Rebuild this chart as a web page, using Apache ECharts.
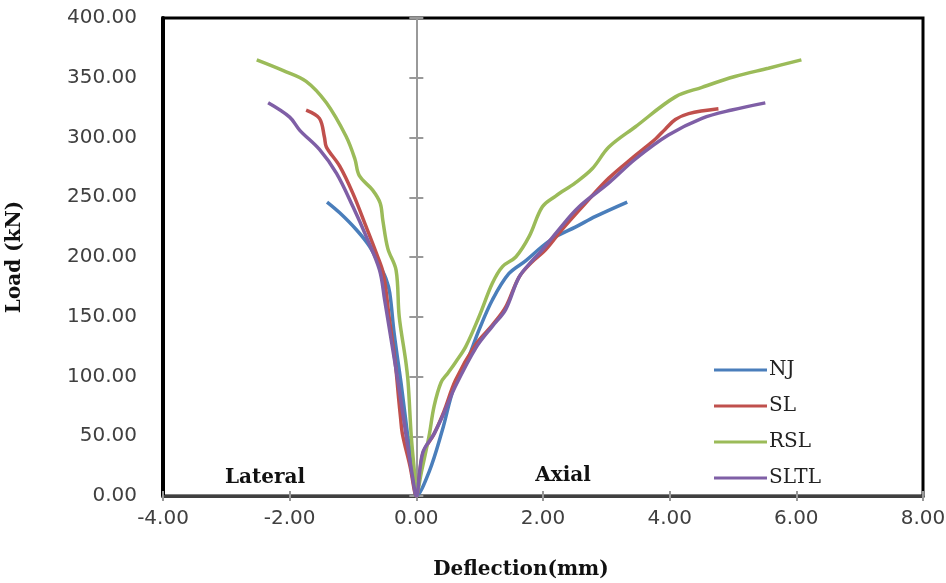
<!DOCTYPE html>
<html>
<head>
<meta charset="utf-8">
<script src="https://cdn.jsdelivr.net/npm/echarts@6/dist/echarts.min.js"></script>
<style>
  html, body { margin: 0; padding: 0; background: #fff; }
  #chart { width: 946px; height: 583px; }
</style>
</head>
<body>
<div id="chart"></div>
<script>
// 数据：每条曲线 [挠度(mm), 荷载(kN)]，从侧向端点经原点到轴向端点
var seriesNames = ['NJ', 'SL', 'RSL', 'SLTL'];
var seriesColors = ['#4a7ebb', '#c0504d', '#9bbb59', '#7f5fa6'];

var njPoints = [
	[-1.41, 246], [-1.21, 237], [-0.95, 223], [-0.74, 209], [-0.58, 193], [-0.48, 182],
	[-0.42, 170], [-0.35, 136], [-0.24, 94], [-0.14, 52], [-0.03, 11], [0, 0],
	[0.2, 20], [0.41, 55], [0.6, 92], [0.8, 113], [0.99, 139], [1.2, 164], [1.46, 186],
	[1.73, 197], [1.99, 209], [2.2, 217], [2.51, 225], [2.83, 234], [3.33, 246]
];
var slPoints = [
	[-1.74, 323], [-1.53, 316], [-1.45, 300], [-1.42, 292], [-1.21, 276], [-1.0, 253],
	[-0.79, 225], [-0.63, 203], [-0.52, 186], [-0.43, 150], [-0.33, 110], [-0.28, 82],
	[-0.25, 66], [-0.22, 52], [-0.1, 25], [0, 0],
	[0.1, 35], [0.28, 52], [0.43, 70], [0.62, 97], [0.94, 127], [1.2, 143], [1.41, 158],
	[1.62, 183], [1.83, 196], [2.04, 206], [2.3, 223], [2.67, 245], [3.04, 266], [3.46, 285],
	[3.78, 299], [3.93, 307], [4.09, 315], [4.3, 320], [4.77, 324]
];
var rslPoints = [
	[-2.52, 365], [-2.1, 356], [-1.74, 347], [-1.42, 329], [-1.11, 301], [-0.97, 282],
	[-0.9, 268], [-0.69, 256], [-0.57, 245], [-0.53, 231], [-0.45, 207], [-0.32, 189],
	[-0.27, 150], [-0.17, 114], [-0.13, 95], [-0.08, 50], [-0.03, 20], [0, 0],
	[0.08, 20], [0.2, 50], [0.28, 75], [0.39, 95], [0.5, 103], [0.62, 112], [0.78, 125],
	[0.99, 150], [1.2, 178], [1.36, 192], [1.57, 200], [1.78, 217], [1.99, 242], [2.2, 251],
	[2.51, 262], [2.78, 274], [3.04, 292], [3.46, 309], [4.09, 334], [4.51, 342],
	[5.03, 351], [5.56, 358], [6.08, 365]
];
var sltlPoints = [
	[-2.34, 329], [-2.0, 317], [-1.84, 306], [-1.53, 290], [-1.26, 270], [-1.0, 242],
	[-0.79, 217], [-0.58, 189], [-0.5, 164], [-0.37, 122], [-0.27, 89], [-0.16, 50],
	[-0.06, 16], [0, 0],
	[0.1, 36], [0.28, 52], [0.44, 70], [0.6, 90], [0.94, 124], [1.2, 142], [1.41, 156],
	[1.62, 183], [1.83, 197], [1.99, 206], [2.25, 223], [2.57, 242], [3.04, 262],
	[3.46, 282], [3.98, 302], [4.51, 316], [4.98, 323], [5.51, 329]
];

var xTicks = { min: -4, max: 8, step: 2 };
var yTicks = { min: 0, max: 400, step: 50 };

var allPoints = [njPoints, slPoints, rslPoints, sltlPoints];

function fmt2(v) {
	return Number(v).toFixed(2);
}

var myChart = echarts.init(document.getElementById('chart'), null, { renderer: 'canvas' });

var tickFont = { fontFamily: 'DejaVu Sans', fontSize: 20, color: '#404040' };
var boldSerif = { fontFamily: 'DejaVu Serif', fontWeight: 'bold', fontSize: 20, color: '#111' };

var option = {
	animation: false,
	backgroundColor: '#fff',
	grid: {
		left: 163, right: 23, top: 18, bottom: 87,
		show: true, borderColor: '#000', borderWidth: 3,
		outerBoundsMode: 'none'
	},
	legend: {
		orient: 'vertical',
		left: 709, top: 355,
		itemWidth: 53, itemHeight: 20, itemGap: 16,
		icon: 'path://M0,8.5 L53,8.5 L53,11.5 L0,11.5 Z',
		textStyle: { fontFamily: 'DejaVu Serif', fontSize: 20, color: '#222', padding: [0, 0, 0, -3] },
		data: seriesNames
	},
	xAxis: [{
		type: 'value', min: xTicks.min, max: xTicks.max, interval: xTicks.step,
		position: 'bottom',
		axisLine: { show: true, onZero: false, lineStyle: { color: '#404040', width: 3 } },
		axisTick: { show: true, length: 5, lineStyle: { color: '#999', width: 2 } },
		axisLabel: Object.assign({ margin: 13, formatter: fmt2 }, tickFont),
		splitLine: { show: false }
	}, {
		type: 'value', min: xTicks.min, max: xTicks.max, interval: xTicks.step,
		position: 'bottom',
		axisLine: { show: false, onZero: false },
		axisTick: { show: true, inside: true, length: 5, lineStyle: { color: '#999', width: 2 } },
		axisLabel: { show: false },
		splitLine: { show: false }
	}],
	yAxis: [{
		type: 'value', min: yTicks.min, max: yTicks.max, interval: yTicks.step,
		position: 'left',
		axisLine: { show: true, onZero: false, lineStyle: { color: '#000', width: 4 } },
		axisTick: { show: false },
		axisLabel: Object.assign({ margin: 26, formatter: fmt2 }, tickFont),
		splitLine: { show: false },
		name: 'Load (kN)', nameLocation: 'middle', nameGap: 138,
		nameTextStyle: boldSerif
	}, {
		type: 'value', min: yTicks.min, max: yTicks.max, interval: yTicks.step,
		axisLine: { show: true, onZero: true, onZeroAxisIndex: 0, lineStyle: { color: '#999', width: 2 } },
		axisTick: { show: true, length: 7, lineStyle: { color: '#999', width: 2 } },
		axisLabel: { show: false },
		splitLine: { show: false }
	}, {
		type: 'value', min: yTicks.min, max: yTicks.max, interval: yTicks.step,
		axisLine: { show: false, onZero: true, onZeroAxisIndex: 0 },
		axisTick: { show: true, inside: true, length: 7, lineStyle: { color: '#999', width: 2 } },
		axisLabel: { show: false },
		splitLine: { show: false }
	}],
	graphic: [
		{ type: 'text', style: Object.assign({ text: 'Deflection(mm)', x: 521, y: 570, align: 'center', verticalAlign: 'middle' }, boldSerif, { fill: '#111' }) },
		{ type: 'text', style: Object.assign({ text: 'Lateral', x: 265, y: 478, align: 'center', verticalAlign: 'middle' }, boldSerif, { fill: '#111' }) },
		{ type: 'text', style: Object.assign({ text: 'Axial', x: 563, y: 476, align: 'center', verticalAlign: 'middle' }, boldSerif, { fill: '#111' }) }
	],
	series: seriesNames.map(function (name, i) {
		return {
			name: name,
			type: 'line',
			xAxisIndex: 0,
			yAxisIndex: 0,
			data: allPoints[i],
			smooth: 0.35,
			symbol: 'none',
			color: seriesColors[i],
			lineStyle: { width: 3.5, color: seriesColors[i] }
		};
	})
};

myChart.setOption(option);
</script>
</body>
</html>
